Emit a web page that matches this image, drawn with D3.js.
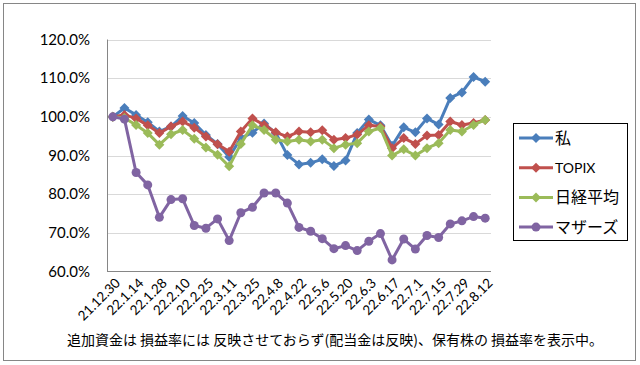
<!DOCTYPE html>
<html><head><meta charset="utf-8">
<script src="https://cdn.jsdelivr.net/npm/d3@7"></script>
<style>
html,body{margin:0;padding:0;background:#fff;}
svg{display:block;}
</style></head>
<body>
<svg id="c" width="640" height="365"></svg>
<script>
const dates = ["21.12.30","22.1.7","22.1.14","22.1.21","22.1.28","22.2.4","22.2.10","22.2.18","22.2.25","22.3.4","22.3.11","22.3.18","22.3.25","22.4.1","22.4.8","22.4.15","22.4.22","22.4.28","22.5.6","22.5.13","22.5.20","22.5.27","22.6.3","22.6.10","22.6.17","22.6.24","22.7.1","22.7.8","22.7.15","22.7.22","22.7.29","22.8.5","22.8.12"];
const mine   = [100,102.3,100.5,98.6,96.2,97.5,100.2,98.4,95.3,93.0,89.6,94.5,95.9,98.3,95.8,90.1,87.7,88.1,89.0,87.3,88.7,95.8,99.3,97.8,92.5,97.3,96.0,99.6,98.0,104.9,106.3,110.3,109.1];
const topix  = [100,100.5,99.6,97.8,95.8,97.5,98.8,97.2,94.9,92.9,91.0,96.2,99.6,97.9,96.0,94.9,96.2,96.0,96.5,94.1,94.5,95.4,97.8,97.5,91.9,94.5,93.0,95.2,95.3,98.8,97.9,98.4,99.2];
const nikkei = [100,99.7,97.9,95.8,92.8,95.5,96.6,94.3,92.1,90.2,87.2,93.0,97.8,96.6,94.1,93.6,94.1,93.6,94.1,91.9,92.8,93.2,96.2,97.1,90.0,91.6,90.0,91.9,93.2,96.6,96.2,97.9,99.2];
const mothers= [100,99.4,85.6,82.4,74.0,78.6,78.8,71.9,71.2,73.6,68.0,75.2,76.6,80.3,80.3,77.7,71.4,70.4,68.5,65.9,66.7,65.4,67.8,69.8,63.0,68.4,65.8,69.3,68.8,72.3,73.1,74.2,73.8];
const seriesNames = ["私","TOPIX","日経平均","マザーズ"];
const yTicks = [60,70,80,90,100,110,120];
const caption = "追加資金は 損益率には 反映させておらず(配当金は反映)、保有株の 損益率を表示中。";

const colors = ["#4a7ebb","#c0504d","#9bbb59","#8064a2"];
const shapes = ["diamond","diamond","diamond","circle"];
const allSeries = [mine, topix, nikkei, mothers];

const svg = d3.select("#c");
const L = 107, R = 491, T = 39.5, B = 271.5;
const x = d3.scaleBand().domain(d3.range(dates.length)).range([L, R]);
const cx = i => x(i) + x.bandwidth()/2;
const y = d3.scaleLinear().domain([60,120]).range([B, T]);

// frame
svg.append("rect").attr("x",3.5).attr("y",3.5).attr("width",632).attr("height",357)
  .attr("fill","none").attr("stroke","#868686").attr("stroke-width",1);

// grid
svg.append("g").selectAll("line").data(yTicks.filter(d=>d>60)).join("line")
  .attr("x1",L).attr("x2",R).attr("y1",d=>Math.round(y(d))+0.5).attr("y2",d=>Math.round(y(d))+0.5)
  .attr("stroke","#d9d9d9").attr("stroke-width",1);

// y labels
svg.append("g").selectAll("text").data(yTicks).join("text")
  .attr("x",90).attr("y",d=>y(d)).attr("dy","0.35em").attr("text-anchor","end")
  .attr("font-family","Lato, 'Noto Sans', sans-serif").attr("font-size",15).attr("fill","#000")
  .text(d=>d.toFixed(1)+"%");

// axes
svg.append("line").attr("x1",L+0.5).attr("x2",L+0.5).attr("y1",T).attr("y2",B).attr("stroke","#868686");
svg.append("line").attr("x1",L).attr("x2",R).attr("y1",B).attr("y2",B).attr("stroke","#868686");

// x labels
svg.append("g").selectAll("text").data(dates.map((d,i)=>({d,i})).filter(o=>o.i%2===0)).join("text")
  .attr("transform",o=>`translate(${cx(o.i)+5},${B+9}) rotate(-45)`)
  .attr("text-anchor","end").attr("dy","0.35em")
  .attr("font-family","Lato, 'Noto Sans', sans-serif").attr("font-size",13.5).attr("fill","#000")
  .text(o=>o.d);

const line = d3.line().x((d,i)=>cx(i)).y(d=>y(d));
const diamond = s => `M0,${-s}L${s},0L0,${s}L${-s},0Z`;

allSeries.forEach((data, k) => {
  const g = svg.append("g");
  g.append("path").datum(data).attr("d", line).attr("fill","none")
    .attr("stroke", colors[k]).attr("stroke-width", 3).attr("stroke-linejoin","round");
  if (shapes[k]==="diamond") {
    g.selectAll("path.m").data(data).join("path").attr("class","m")
      .attr("transform",(d,i)=>`translate(${cx(i)},${y(d)})`).attr("d", diamond(5))
      .attr("fill", colors[k]);
  } else {
    g.selectAll("circle").data(data).join("circle")
      .attr("cx",(d,i)=>cx(i)).attr("cy",d=>y(d)).attr("r",4.5).attr("fill",colors[k]);
  }
});

// legend
const lg = svg.append("g");
lg.append("rect").attr("x",513.5).attr("y",123.5).attr("width",114).attr("height",117)
  .attr("fill","#fff").attr("stroke","#000").attr("stroke-width",1);
seriesNames.forEach((n,k)=>{
  const yy = 138 + k*29.7;
  lg.append("line").attr("x1",519).attr("x2",553).attr("y1",yy).attr("y2",yy)
    .attr("stroke",colors[k]).attr("stroke-width",3);
  if (shapes[k]==="diamond") lg.append("path").attr("transform",`translate(536,${yy})`).attr("d",diamond(5)).attr("fill",colors[k]);
  else lg.append("circle").attr("cx",536).attr("cy",yy).attr("r",4.5).attr("fill",colors[k]);
  lg.append("text").attr("x",555).attr("y",yy).attr("dy","0.36em")
    .attr("font-family", k===1 ? "Lato, 'Noto Sans', sans-serif" : "'Noto Sans CJK JP', sans-serif")
    .attr("font-size", k===1 ? 14 : 16).attr("fill","#000").text(n);
});

// caption
svg.append("text").attr("x",335).attr("y",340).attr("dy","0.35em").attr("text-anchor","middle")
  .attr("font-family","'Noto Sans CJK JP', sans-serif").attr("font-size",14).attr("fill","#000")
  .text(caption);
</script>
</body></html>
